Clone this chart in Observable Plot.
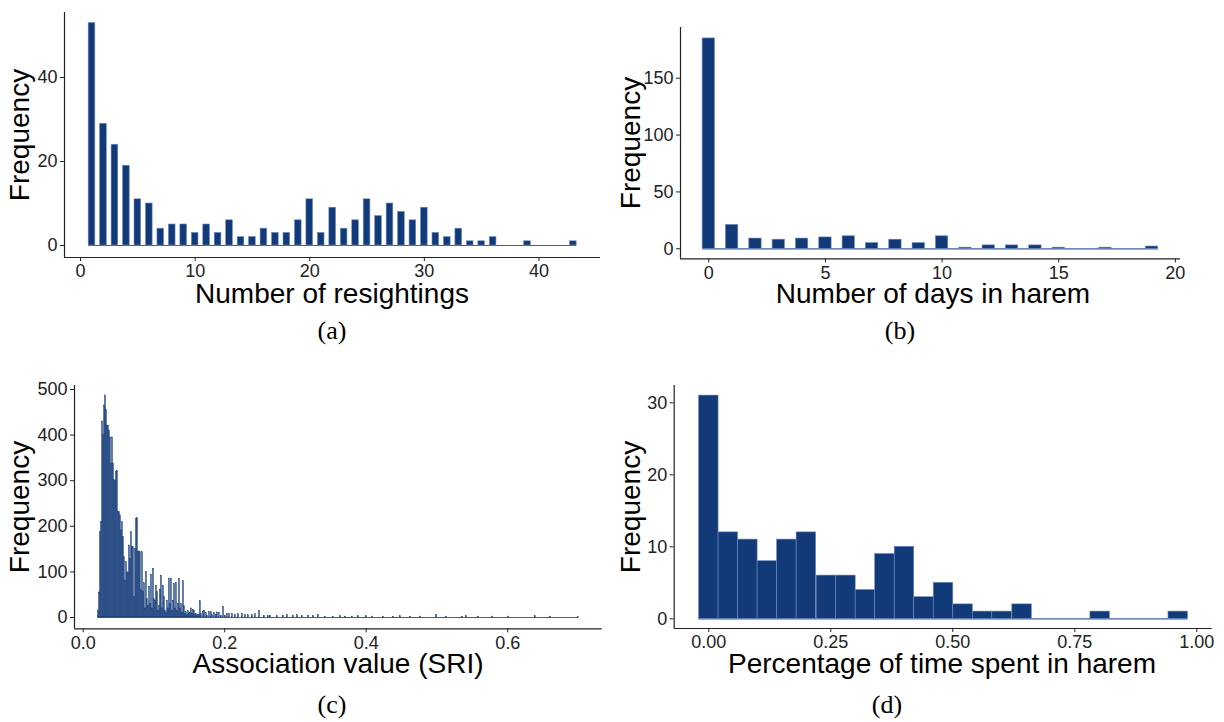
<!DOCTYPE html>
<html><head><meta charset="utf-8">
<script src="https://cdn.jsdelivr.net/npm/d3@7"></script>
<script src="https://cdn.jsdelivr.net/npm/@observablehq/plot@0.6"></script>
<style>
html,body{margin:0;padding:0;background:#fff;}
#root{position:relative;width:1224px;height:722px;overflow:hidden;font-family:"Liberation Sans",Arial,sans-serif;background:#fff;}
.panel{position:absolute;}
.xt{position:absolute;font-size:28px;color:#000;white-space:nowrap;transform:translate(-50%,0);line-height:1;}
.yt{position:absolute;font-size:28px;color:#000;white-space:nowrap;transform:translate(-50%,-50%) rotate(-90deg);line-height:1;}
.cap{position:absolute;font-family:"Liberation Serif","DejaVu Serif",serif;font-size:26px;color:#000;transform:translate(-50%,-50%);line-height:1;white-space:nowrap;}
</style></head><body><div id="root"></div>
<script>
// ---------- DATA ----------
// (a) Number of resightings
const resightValues = [1,2,3,4,5,6,7,8,9,10,11,12,13,14,15,16,17,18,19,20,21,22,23,24,25,26,27,28,29,30,31,32,33,34,35,36,37,38,39,40,41,42,43];
const resightCounts = [53,29,24,19,11,10,4,5,5,3,5,3,6,2,2,4,3,3,6,11,3,9,4,6,11,7,10,8,6,9,3,2,4,1,1,2,0,0,1,0,0,0,1];
const resightTicks = [0,10,20,30,40];

// (b) Number of days in harem
const daysValues = [0,1,2,3,4,5,6,7,8,9,10,11,12,13,14,15,16,17,18,19];
const daysCounts = [185,21,9,8,9,10,11,5,8,5,11,1,3,3,3,1,0,1,0,2];
const daysTicks = [0,5,10,15,20];

// (c) Association value (SRI): dense part as histogram bins, then sparse tail
const sriBinStart = 0.0216, sriBinWidth = 0.001413;
const sriDenseCounts = [15,55,187,209,430,400,465,487,455,421,421,410,395,338,395,338,302,300,319,322,
  231,231,224,191,209,176,132,81,121,99,99,158,129,187,154,154,45,150,216,218,
  143,145,143,60,143,57,75,20,100,40,25,68,30,94,20,107,40,37,70,56,
  15,25,61,92,20,70,45,15,10,37,20,85,30,85,15,37,74,20,76,15,
  30,85,20,30,10,80,25,8,12,5,14,8,10,20,8,17,15,6,8,4,6,5,36];
const sriTailValues = [0.1672,0.1700,0.1715,0.1743,0.1757,0.1785,0.1813,0.1827,0.1856,0.1884,0.1898,0.1926,0.1954,0.1983,0.2011,0.2039,0.2068,0.2110,0.2152,0.2195,0.2251,0.2294,0.2336,0.2393,0.2435,0.2492,0.2562,0.2619,0.2647,0.2746,0.2831,0.2887,0.2972,0.3029,0.3099,0.3184,0.3255,0.3325,0.3424,0.3537,0.3636,0.3707,0.3806,0.3891,0.4004,0.4089,0.4244,0.4386,0.4485,0.4626,0.4767,0.4994,0.5135,0.5362,0.5418,0.5588,0.5786,0.6012,0.6393,0.6605,0.7001];
const sriTailCounts = [7,12,15,10,4,12,12,5,10,6,11,10,4,24,4,8,8,8,6,7,8,5,5,5,7,15,4,3,4,3,4,5,4,5,3,4,3,6,2,2,3,2,2,3,3,2,2,2,3,2,2,6,2,2,3,2,2,2,3,2,1];
const sriXTicks = [0,0.2,0.4,0.6];
const sriYTicks = [0,100,200,300,400,500];

// (d) Percentage of time spent in harem
const pctBinCenters = [0,0.040,0.080,0.120,0.160,0.200,0.241,0.281,0.321,0.361,0.401,0.441,0.481,0.521,0.561,0.601,0.642,0.682,0.722,0.762,0.802,0.842,0.882,0.922,0.962];
const pctCounts = [31,12,11,8,11,12,6,6,4,9,10,3,5,2,1,1,2,0,0,0,1,0,0,0,1];
const pctBinWidth = 0.0401;
const pctXTicks = [0,0.25,0.5,0.75,1];
const pctYTicks = [0,10,20,30];

// ---------- STYLE ----------
const FILL = "#133a78", EDGE = "#6f8cc0", BASE = "#3d5f9c", AXIS = "#222";

const root = document.getElementById("root");

function histPanel(o) {
  const data = o.values.map((v, i) => ({x: v, c: o.counts[i]}));
  const bars = data.filter(d => d.c > 0);
  const hw = o.barWidth / 2;
  const lo = d3.min(data, d => d.x) - hw, hi = d3.max(data, d => d.x) + hw;
  const svg = Plot.plot({
    width: o.width, height: o.height,
    marginLeft: o.ml, marginRight: o.mr, marginTop: o.mt, marginBottom: o.mb,
    style: {background: "transparent", fontFamily: "'Liberation Sans', Arial, sans-serif", fontSize: "18px", color: AXIS, overflow: "visible"},
    x: {domain: o.xDomain, ticks: o.xTicks, tickSize: 4, tickPadding: 3, label: null, tickFormat: o.xFormat},
    y: {domain: o.yDomain, ticks: o.yTicks, tickSize: 4, tickPadding: 3, label: null},
    marks: [
      Plot.ruleY([0], {x1: lo, x2: hi, stroke: BASE, strokeWidth: 1.2}),
      Plot.rect(bars, {x1: d => d.x - hw, x2: d => d.x + hw, y1: d => 0, y2: d => d.c,
        fill: FILL, stroke: o.edge ?? EDGE, strokeWidth: o.edgeWidth ?? 0.6}),
      Plot.ruleX([o.xDomain[0]], {stroke: AXIS, strokeWidth: 1.2}),
      Plot.ruleY([o.yDomain[0]], {stroke: AXIS, strokeWidth: 1.2})
    ]
  });
  svg.classList.add("panel");
  svg.style.left = o.left + "px";
  svg.style.top = o.top + "px";
  root.appendChild(svg);
}

function addText(cls, txt, x, y) {
  const d = document.createElement("div");
  d.className = cls; d.textContent = txt;
  d.style.left = x + "px"; d.style.top = y + "px";
  root.appendChild(d);
}

// (a)
histPanel({values: resightValues, counts: resightCounts, barWidth: 0.58,
  left: 0, top: 0, width: 620, height: 320, ml: 64, mr: 20, mt: 12, mb: 63,
  xDomain: [-1.40, 45.37], yDomain: [-2.86, 55.5], xTicks: resightTicks, yTicks: [0,20,40]});
// (b)
histPanel({values: daysValues, counts: daysCounts, barWidth: 0.53,
  left: 612, top: 0, width: 590, height: 320, ml: 68, mr: 22, mt: 27, mb: 61.7,
  xDomain: [-1.213, 20.22], yDomain: [-8.8, 194.6], xTicks: daysTicks, yTicks: [0,50,100,150]});
// (c)
const sriValues = sriDenseCounts.map((c, i) => +(sriBinStart + i * sriBinWidth).toFixed(4)).concat(sriTailValues);
const sriCounts = sriDenseCounts.concat(sriTailCounts);
histPanel({values: sriValues, counts: sriCounts, barWidth: sriBinWidth, edge: FILL, edgeWidth: 0.3,
  left: 0, top: 360, width: 620, height: 300, ml: 74, mr: 18.3, mt: 25, mb: 31.7,
  xDomain: [-0.0123, 0.7336], yDomain: [-24.8, 508.8], xTicks: sriXTicks, yTicks: sriYTicks, xFormat: d3.format(".1f")});
// (d)
histPanel({values: pctBinCenters, counts: pctCounts, barWidth: pctBinWidth,
  left: 612, top: 360, width: 612, height: 300, ml: 61.7, mr: 12.3, mt: 25, mb: 32,
  xDomain: [-0.0709, 1.0316], yDomain: [-1.35, 32.4], xTicks: pctXTicks, yTicks: pctYTicks, xFormat: d3.format(".2f")});

// axis titles
addText("xt", "Number of resightings", 332, 280);
addText("xt", "Number of days in harem", 933, 280);
addText("xt", "Association value (SRI)", 338, 650);
addText("xt", "Percentage of time spent in harem", 942, 650);
addText("yt", "Frequency", 20, 135);
addText("yt", "Frequency", 631, 143);
addText("yt", "Frequency", 20, 507);
addText("yt", "Frequency", 631, 507);
// captions
addText("cap", "(a)", 332, 331);
addText("cap", "(b)", 900, 331);
addText("cap", "(c)", 332, 705);
addText("cap", "(d)", 887, 705);
</script>
</body></html>
